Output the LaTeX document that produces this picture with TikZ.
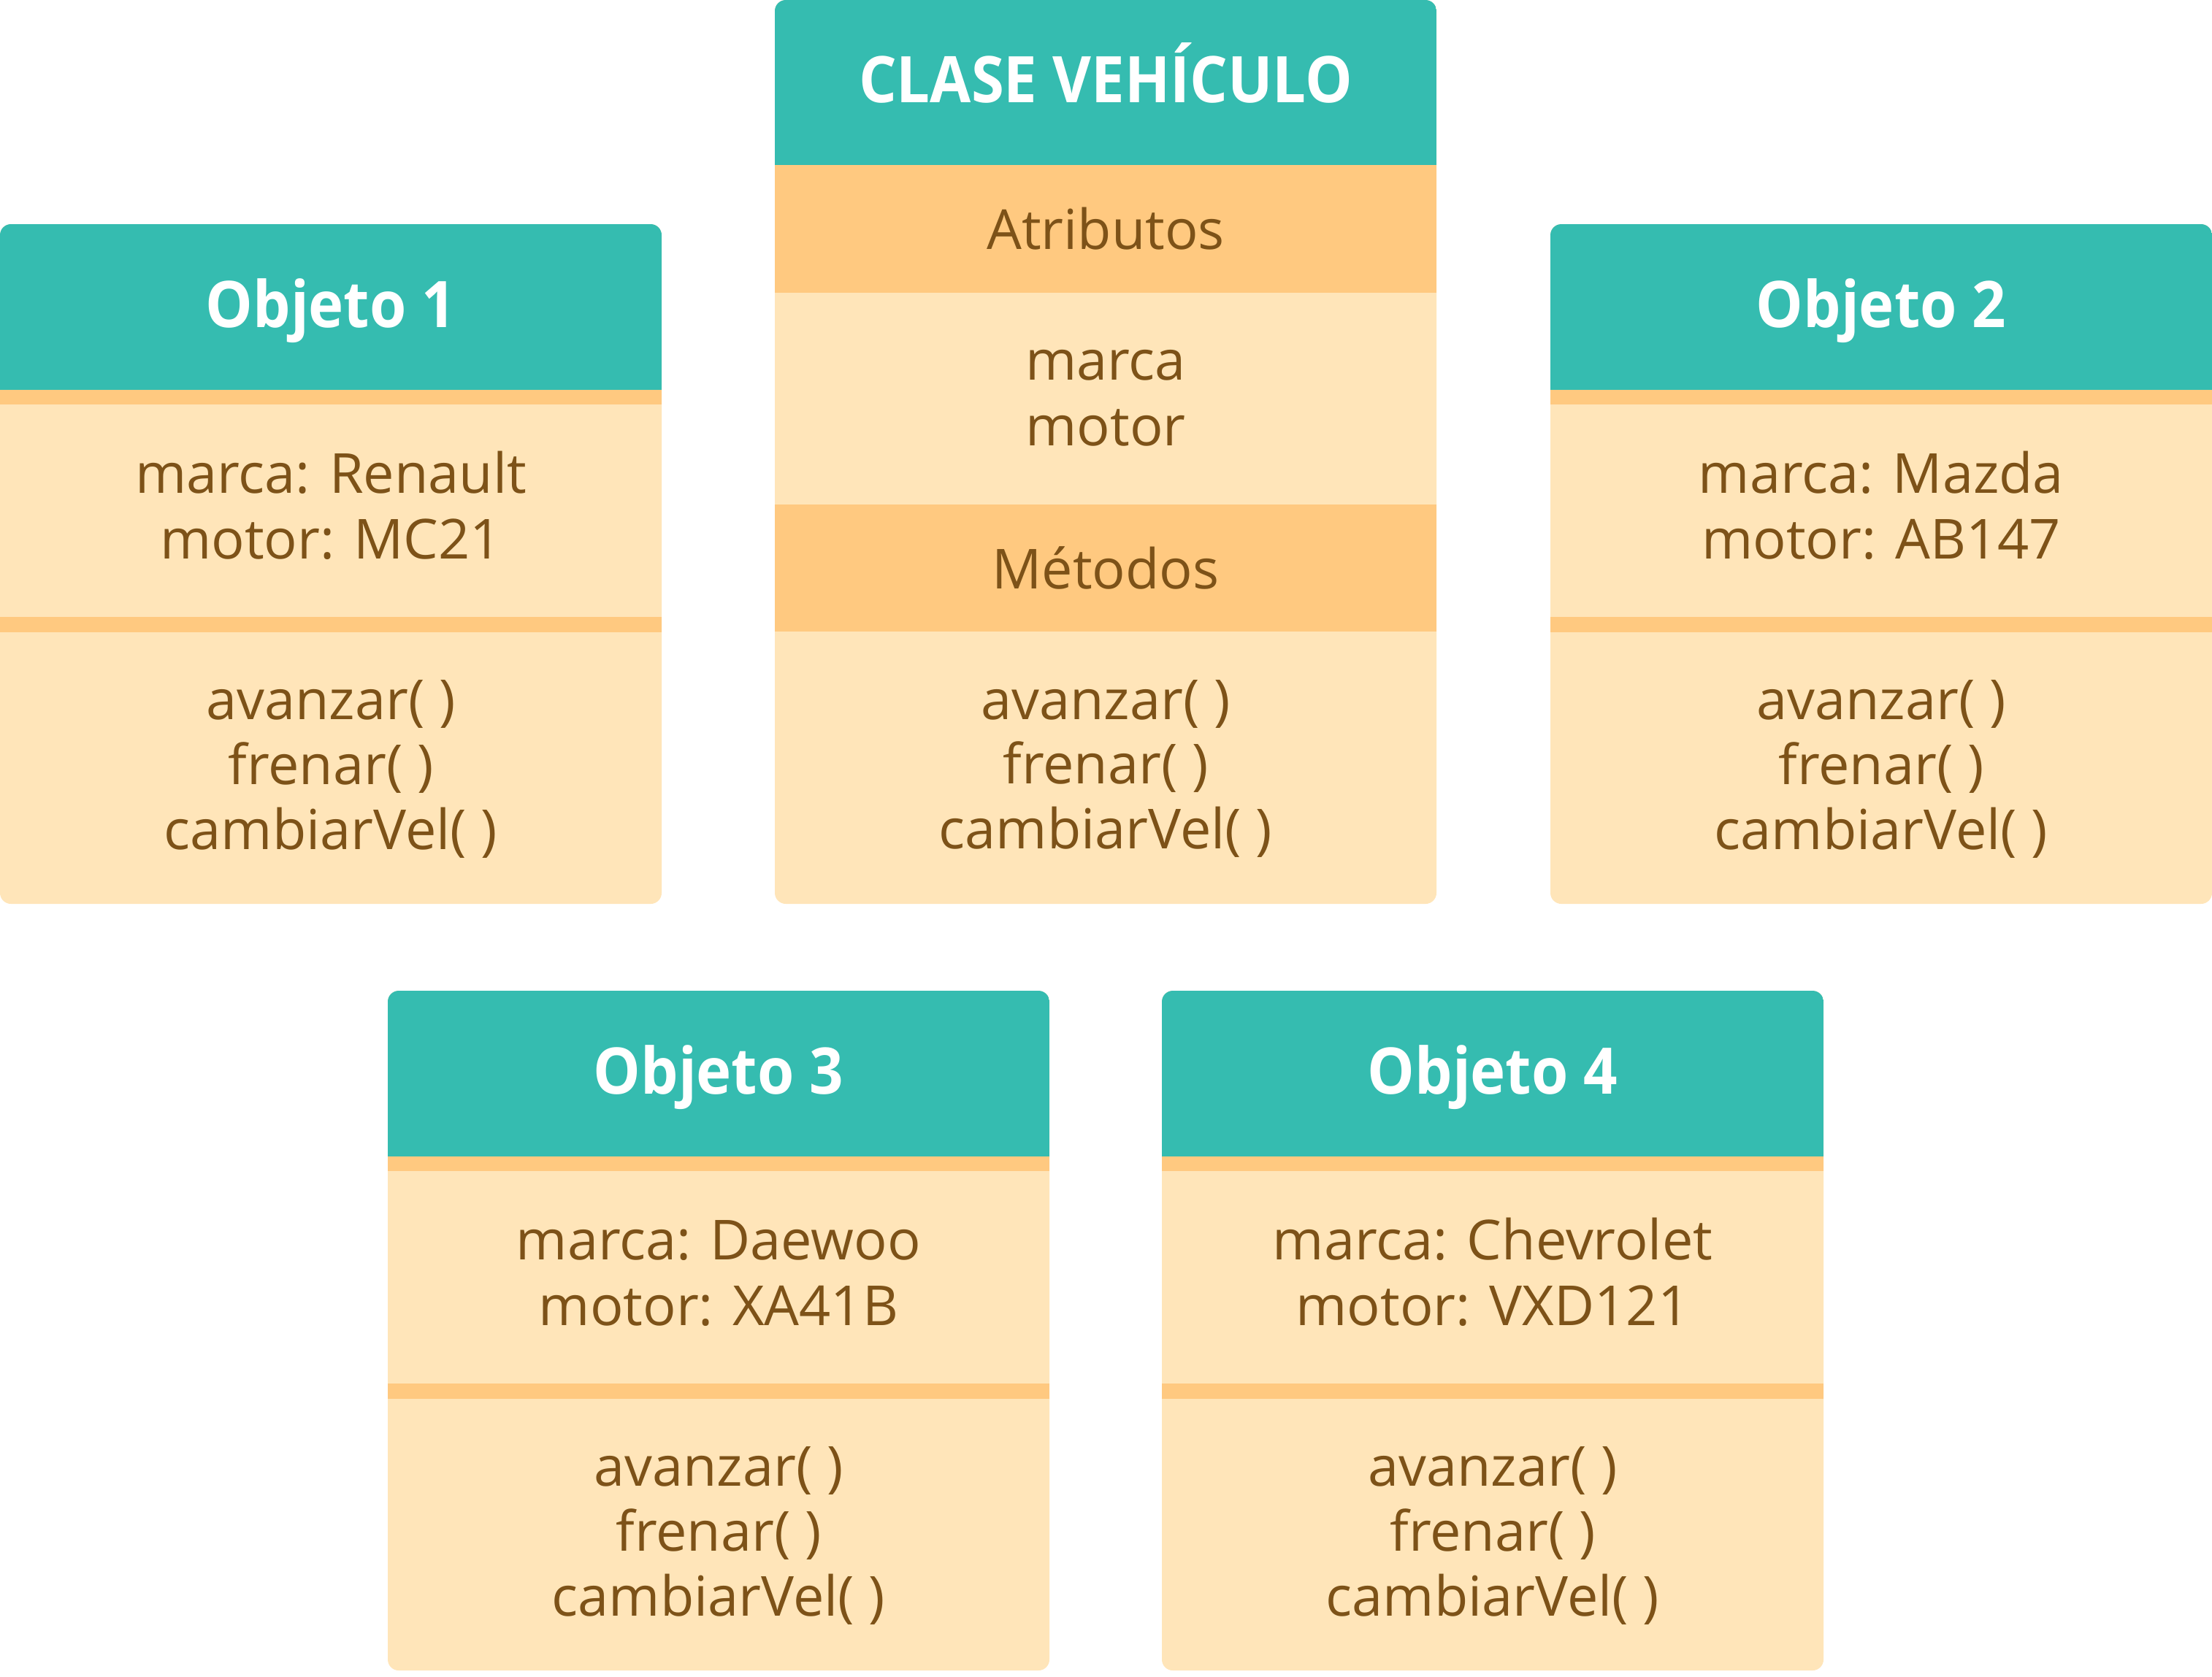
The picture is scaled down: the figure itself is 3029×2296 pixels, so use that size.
\documentclass[tikz,border=0pt]{standalone}
\usepackage{fontspec}
\setmainfont{Open Sans}
\newfontfamily\titlefont{Open Sans}[UprightFont=*-Bold, FakeStretch=0.925]
\definecolor{headteal}{RGB}{53,188,176}
\definecolor{bandc}{RGB}{255,201,128}
\definecolor{lightc}{RGB}{255,229,185}
\definecolor{textc}{RGB}{125,82,24}
\tikzset{
  boxbg/.style={fill=lightc, rounded corners=3.75pt, inner sep=0pt, outer sep=0pt, anchor=north west, minimum width=226.5pt},
  titletext/.style={anchor=base, inner sep=0pt, text=white, font=\titlefont\fontsize{22}{26}\selectfont},
  bodytext/.style={anchor=base, inner sep=0pt, text=textc, font=\fontsize{18.9}{22}\selectfont}
}
\newcommand\objbox[6]{%
  \begin{scope}[shift={(#2,#3)}]
    \node[boxbg, minimum height=232.75pt] (#1) at (0,0) {};
    \begin{scope}
      \clip[rounded corners=3.75pt] (0,0) rectangle (906,931);
      \fill[headteal] (0,0) rectangle (906,227);
      \fill[bandc] (0,227) rectangle (906,247);
      \fill[bandc] (0,538) rectangle (906,559);
    \end{scope}
    \node[titletext] (#1-title) at (453,141) {#4};
    \node[bodytext] (#1-marca) at (453,368) {marca: #5};
    \node[bodytext] (#1-motor) at (453,458) {motor: #6};
    \node[bodytext] (#1-avanzar) at (453,678) {avanzar( )};
    \node[bodytext] (#1-frenar) at (453,767) {frenar( )};
    \node[bodytext] (#1-cambiar) at (453,856) {cambiarVel( )};
  \end{scope}%
}
\begin{document}
\begin{tikzpicture}[x=0.25pt,y=-0.25pt]
\useasboundingbox (0,0) rectangle (3029,2296);
% Class box
\begin{scope}[shift={(1061,0)}]
  \node[boxbg, minimum height=309.5pt] (clase) at (0,0) {};
  \begin{scope}
    \clip[rounded corners=3.75pt] (0,0) rectangle (906,1238);
    \fill[headteal] (0,0) rectangle (906,226);
    \fill[bandc] (0,226) rectangle (906,401);
    \fill[bandc] (0,691) rectangle (906,865);
  \end{scope}
  \node[titletext] (clase-title) at (453,140) {CLASE VEHÍCULO};
  \node[bodytext] (clase-atr) at (453,341) {Atributos};
  \node[bodytext] (clase-marca) at (453,520) {marca};
  \node[bodytext] (clase-motor) at (453,610) {motor};
  \node[bodytext] (clase-met) at (453,806) {Métodos};
  \node[bodytext] (clase-avanzar) at (453,985) {avanzar( )};
  \node[bodytext] (clase-frenar) at (453,1073) {frenar( )};
  \node[bodytext] (clase-cambiar) at (453,1162) {cambiarVel( )};
\end{scope}
\objbox{obj1}{0}{307}{Objeto 1}{Renault}{MC21}
\objbox{obj2}{2123}{307}{Objeto 2}{Mazda}{AB147}
\objbox{obj3}{531}{1357}{Objeto 3}{Daewoo}{XA41B}
\objbox{obj4}{1591}{1357}{Objeto 4}{Chevrolet}{VXD121}
\end{tikzpicture}
\end{document}
